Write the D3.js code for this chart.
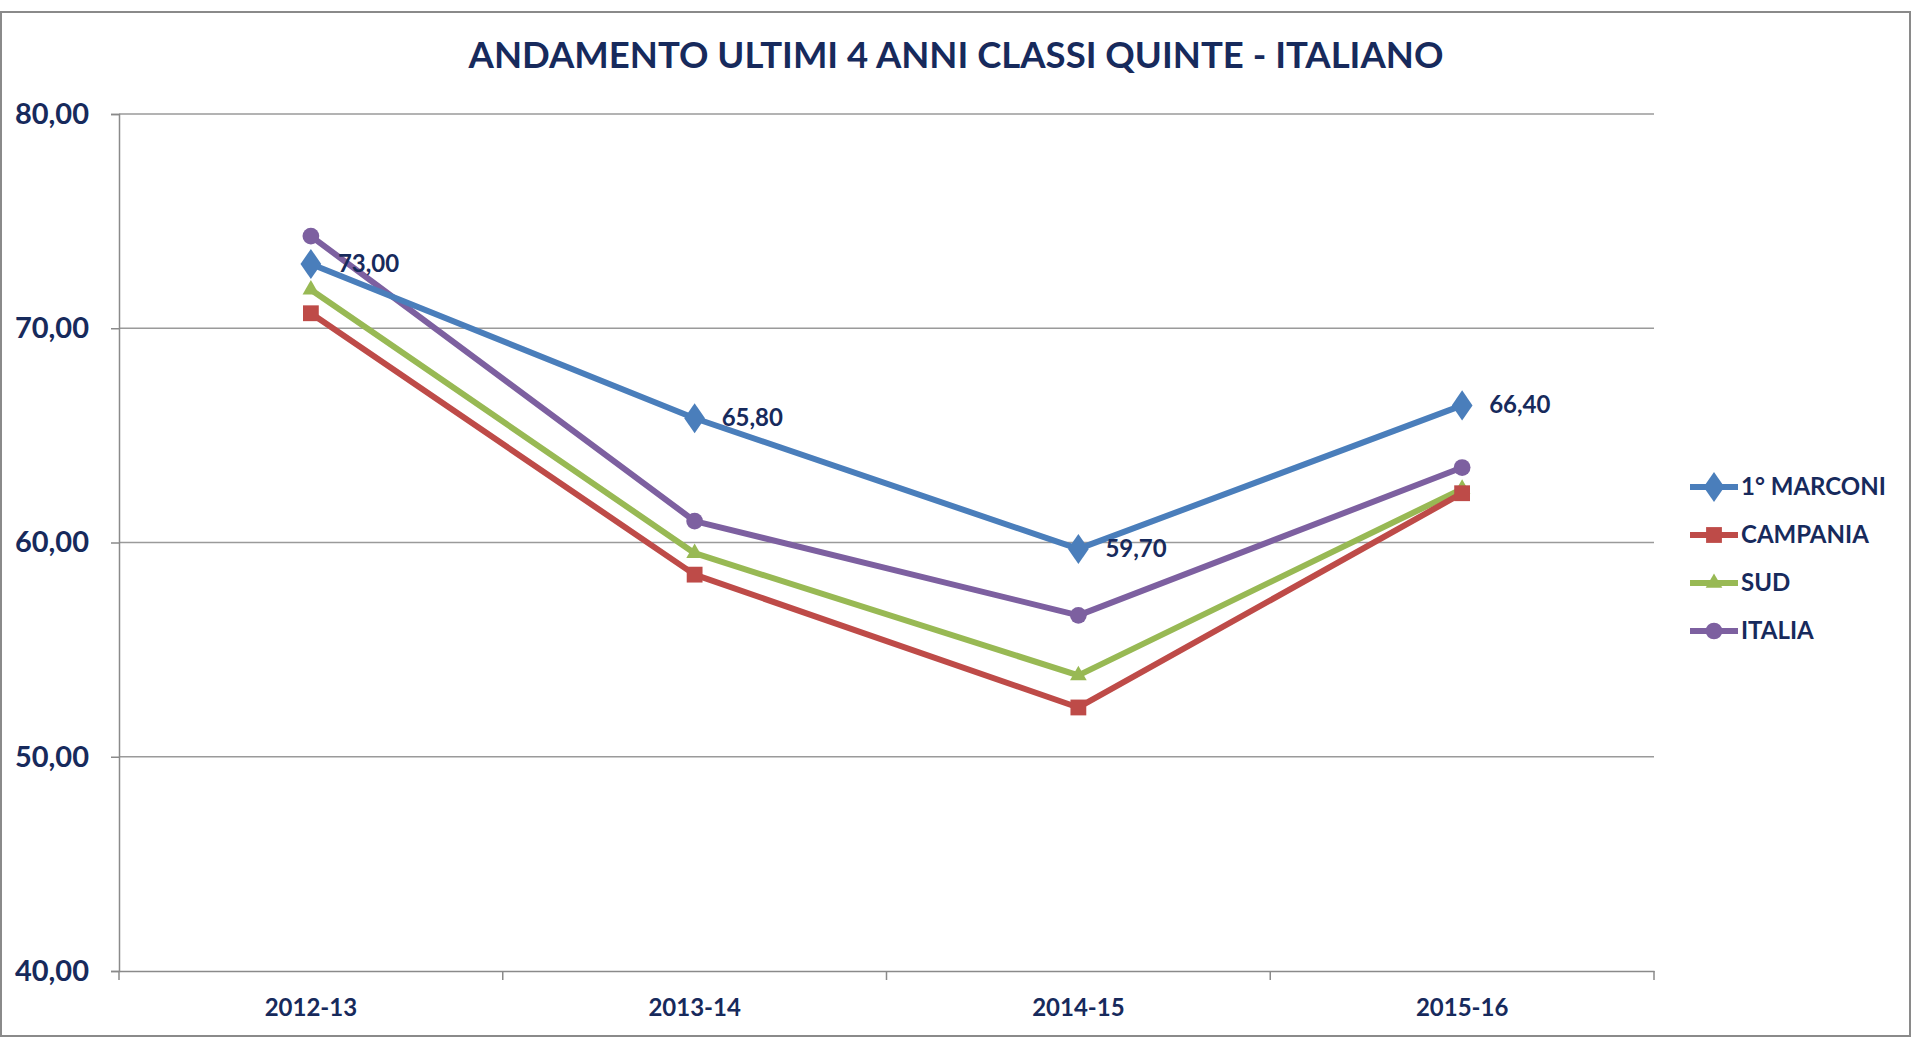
<!DOCTYPE html>
<html>
<head>
<meta charset="utf-8">
<script src="https://cdn.jsdelivr.net/npm/d3@7"></script>
<style>
  body { margin: 0; background: #fff; }
  svg text { font-family: Lato, "Open Sans", sans-serif; font-weight: bold; fill: #172a5c; }
</style>
</head>
<body>
<svg id="chart"></svg>
<script>
const years = ['2012-13', '2013-14', '2014-15', '2015-16'];
const marconi = [73.0, 65.8, 59.7, 66.4];
const campania = [70.7, 58.5, 52.3, 62.3];
const sud = [71.8, 59.5, 53.8, 62.5];
const italia = [74.3, 61.0, 56.6, 63.5];
const yTicks = [40, 50, 60, 70, 80];

const series = [
  { name: '1° MARCONI', values: marconi, color: '#4a7ebb', symbol: d3.symbolDiamond, size: 260 },
  { name: 'CAMPANIA', values: campania, color: '#be4b48', symbol: d3.symbolSquare, size: 250 },
  { name: 'SUD', values: sud, color: '#98b954', symbol: d3.symbolTriangle, size: 120 },
  { name: 'ITALIA', values: italia, color: '#7d60a0', symbol: d3.symbolCircle, size: 220 }
];

const width = 1920, height = 1038;
const margin = { top: 114, right: 266, bottom: 67, left: 119 };
const w = width - margin.left - margin.right;
const h = height - margin.top - margin.bottom;
const fmt = v => d3.format('.2f')(v).replace('.', ',');

const svg = d3.select('#chart').attr('width', width).attr('height', height);

// chart area border
svg.append('rect')
  .attr('x', 1).attr('y', 12).attr('width', 1909).attr('height', 1024)
  .attr('fill', 'none').attr('stroke', '#8a8a8a').attr('stroke-width', 2);

svg.append('text')
  .attr('x', 956).attr('y', 68)
  .attr('text-anchor', 'middle')
  .style('font-size', '36.5px')
  .text('ANDAMENTO ULTIMI 4 ANNI CLASSI QUINTE - ITALIANO');

const g = svg.append('g').attr('transform', `translate(${margin.left},${margin.top})`);

const x = d3.scaleBand().domain(years).range([0, w]);
const y = d3.scaleLinear().domain([40, 80]).range([h, 0]);

// gridlines
g.append('g')
  .selectAll('line')
  .data(yTicks.slice(1))
  .enter().append('line')
  .attr('x1', 0).attr('x2', w)
  .attr('y1', d => y(d)).attr('y2', d => y(d))
  .attr('stroke', '#9a9a9a').attr('stroke-width', 1.5);

// y axis
const yAxis = g.append('g')
  .call(d3.axisLeft(y).tickValues(yTicks).tickSize(8).tickPadding(22).tickFormat(fmt));
yAxis.select('.domain').attr('stroke', '#8a8a8a').attr('stroke-width', 1.5);
yAxis.selectAll('.tick line').attr('stroke', '#8a8a8a').attr('stroke-width', 1.5);
yAxis.selectAll('text').style('font-size', '29px');

// x axis
const xAxis = g.append('g')
  .attr('transform', `translate(0,${h})`)
  .call(d3.axisBottom(x).tickSize(0).tickPadding(28));
xAxis.select('.domain').attr('stroke', '#8a8a8a').attr('stroke-width', 1.5);
xAxis.selectAll('text').style('font-size', '24px');
g.append('g')
  .selectAll('line')
  .data(years.map((d, i) => i).concat([years.length]))
  .enter().append('line')
  .attr('x1', i => i * x.step()).attr('x2', i => i * x.step())
  .attr('y1', h).attr('y2', h + 9)
  .attr('stroke', '#8a8a8a').attr('stroke-width', 1.5);

const line = d3.line()
  .x((d, i) => x(years[i]) + x.bandwidth() / 2)
  .y(d => y(d));

const markerTransform = s => s.symbol === d3.symbolDiamond ? ' scale(1.2,1)' : '';

series.slice().reverse().forEach(s => {
  g.append('path')
    .datum(s.values)
    .attr('d', line)
    .attr('fill', 'none')
    .attr('stroke', s.color)
    .attr('stroke-width', 6)
    .attr('stroke-linejoin', 'round');
  g.selectAll(null)
    .data(s.values)
    .enter().append('path')
    .attr('d', d3.symbol().type(s.symbol).size(s.size))
    .attr('transform', (d, i) => `translate(${x(years[i]) + x.bandwidth() / 2},${y(d)})` + markerTransform(s))
    .attr('fill', s.color);
});

// data labels for 1° MARCONI
g.selectAll('.dlabel')
  .data(marconi)
  .enter().append('text')
  .attr('class', 'dlabel')
  .attr('x', (d, i) => x(years[i]) + x.bandwidth() / 2 + 27)
  .attr('y', d => y(d) + 8)
  .style('font-size', '24px')
  .text(d => fmt(d));

// legend
const legend = svg.append('g').attr('transform', 'translate(1690,487)');
series.forEach((s, i) => {
  const row = legend.append('g').attr('transform', `translate(0,${i * 48})`);
  row.append('line')
    .attr('x1', 0).attr('x2', 48)
    .attr('stroke', s.color).attr('stroke-width', 6);
  row.append('path')
    .attr('d', d3.symbol().type(s.symbol).size(s.size))
    .attr('transform', 'translate(24,0)' + markerTransform(s))
    .attr('fill', s.color);
  row.append('text')
    .attr('x', 51).attr('y', 8)
    .style('font-size', '24px')
    .text(s.name);
});
</script>
</body>
</html>
